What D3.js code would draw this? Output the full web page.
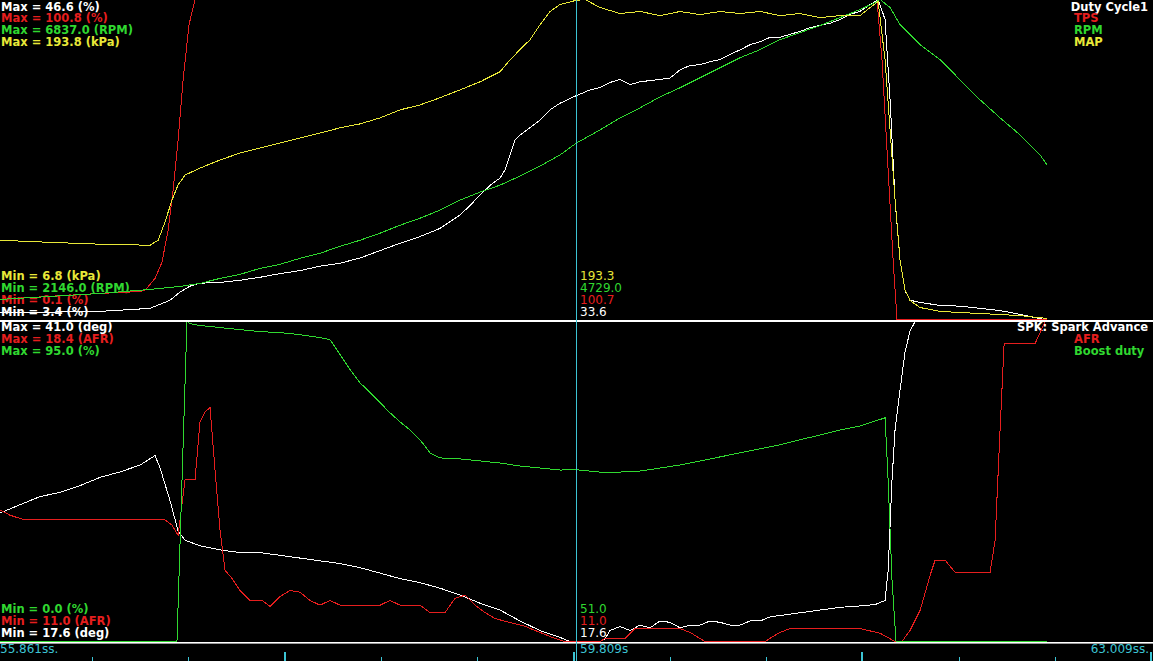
<!DOCTYPE html>
<html><head><meta charset="utf-8">
<script src="https://cdn.jsdelivr.net/npm/d3@7"></script>
<style>html,body{margin:0;padding:0;background:#000;overflow:hidden}</style>
</head><body><svg id="c" width="1153" height="661"></svg>
<script>
// ---------- DATA ----------
const timeRange = [55.861, 63.009];
const cursorTime = 59.432;
const timeLabels = ["55.861ss.", "59.809s", "63.009ss."];
const tickTimes = [56.431, 57.029, 57.626, 58.223, 58.820, 59.417, 60.014, 60.611, 61.208, 61.805, 62.402, 62.999];

const topNames = ["Duty Cycle1", "TPS", "RPM", "MAP"];
const topUnits = ["%", "%", "RPM", "kPa"];
const topMax = [46.6, 100.8, 6837.0, 193.8];
const topMin = [3.4, 0.1, 2146.0, 6.8];
const topCursor = [33.6, 100.7, 4729.0, 193.3];

const botNames = ["SPK: Spark Advance", "AFR", "Boost duty"];
const botUnits = ["deg", "AFR", "%"];
const botMax = [41.0, 18.4, 95.0];
const botMin = [17.6, 11.0, 0.0];
const botCursor = [17.6, 11.0, 51.0];

const duty = [[55.861,4.3],[56.481,4.5],[56.791,4.9],[56.915,6.0],[56.977,7.1],[57.039,7.9],[57.101,8.3],[57.225,8.4],[57.349,8.7],[57.473,9.1],[57.597,9.6],[57.721,10.0],[57.845,10.6],[57.969,11.0],[58.093,11.7],[58.217,12.7],[58.341,13.7],[58.465,14.6],[58.589,15.7],[58.713,17.5],[58.775,18.8],[58.837,20.2],[58.899,21.5],[58.961,22.5],[58.992,23.6],[59.023,25.6],[59.054,27.6],[59.085,28.3],[59.147,29.3],[59.209,30.3],[59.271,31.7],[59.333,32.6],[59.432,33.6],[59.519,34.4],[59.581,34.7],[59.643,35.4],[59.705,35.8],[59.767,35.1],[59.829,35.5],[59.953,35.8],[60.015,36.0],[60.077,37.1],[60.139,37.7],[60.201,37.8],[60.263,38.2],[60.325,38.5],[60.387,39.2],[60.449,39.8],[60.511,40.5],[60.573,40.9],[60.635,41.5],[60.697,41.5],[60.759,41.9],[60.821,42.3],[60.883,42.8],[60.945,43.1],[61.007,43.4],[61.069,43.9],[61.131,44.6],[61.193,45.0],[61.255,45.9],[61.305,46.6],[61.348,43.9],[61.379,33.1],[61.410,19.5],[61.441,11.4],[61.472,7.3],[61.503,6.0],[61.565,5.7],[61.689,5.3],[61.813,5.2],[61.937,4.9],[62.061,4.6],[62.185,4.1],[62.309,3.5],[62.352,3.4]];

const tps = [[55.861,6.4],[56.171,7.4],[56.481,8.3],[56.729,8.9],[56.760,9.3],[56.822,13.0],[56.865,18.1],[56.903,28.2],[56.934,40.8],[56.965,56.6],[56.996,75.5],[57.033,92.9],[57.070,100.8],[59.432,100.7],[61.298,100.8],[61.329,81.9],[61.367,47.1],[61.398,18.7],[61.422,0.1],[62.352,0.1]];

const rpm = [[55.861,2440],[56.171,2484],[56.481,2528],[56.791,2587],[56.977,2631],[57.101,2675],[57.225,2749],[57.349,2808],[57.473,2896],[57.597,2955],[57.721,3043],[57.845,3117],[57.969,3219],[58.093,3308],[58.217,3411],[58.341,3528],[58.465,3631],[58.589,3749],[58.713,3896],[58.837,4014],[58.961,4116],[59.085,4249],[59.209,4396],[59.333,4558],[59.432,4729],[59.581,4925],[59.705,5102],[59.829,5249],[59.953,5410],[60.077,5543],[60.201,5690],[60.325,5837],[60.449,5984],[60.573,6102],[60.697,6249],[60.821,6352],[60.945,6455],[61.069,6572],[61.193,6690],[61.286,6793],[61.317,6837],[61.379,6719],[61.441,6469],[61.565,6175],[61.689,5955],[61.813,5660],[61.937,5366],[62.061,5102],[62.185,4852],[62.309,4558],[62.352,4411]];

const map = [[55.861,53.1],[56.171,51.9],[56.481,50.8],[56.791,50.2],[56.841,53.1],[56.884,63.7],[56.927,76.6],[56.965,85.4],[57.008,91.2],[57.101,95.3],[57.225,100.0],[57.349,104.1],[57.473,107.0],[57.597,110.0],[57.721,112.9],[57.845,115.8],[57.969,118.8],[58.093,121.1],[58.217,124.6],[58.341,129.3],[58.465,132.2],[58.589,136.4],[58.713,141.0],[58.837,145.7],[58.961,151.6],[59.023,158.6],[59.085,164.5],[59.147,170.3],[59.209,179.1],[59.271,186.8],[59.333,190.9],[59.432,193.3],[59.488,193.8],[59.581,189.1],[59.705,185.6],[59.829,186.8],[59.953,184.4],[60.077,186.8],[60.201,185.0],[60.325,186.8],[60.449,185.6],[60.573,186.8],[60.697,184.4],[60.821,185.6],[60.945,183.2],[61.069,184.4],[61.193,184.4],[61.255,189.1],[61.305,192.6],[61.348,158.6],[61.379,117.6],[61.410,76.6],[61.441,41.4],[61.472,23.8],[61.503,17.9],[61.565,13.8],[61.689,11.5],[61.937,10.3],[62.185,9.1],[62.352,7.4]];

const spk = [[55.861,27.0],[55.985,27.6],[56.109,28.2],[56.233,28.5],[56.357,29.0],[56.481,29.6],[56.605,30.0],[56.729,30.5],[56.822,31.2],[56.853,30.3],[56.915,27.9],[56.965,25.7],[57.008,25.0],[57.101,24.6],[57.225,24.3],[57.349,24.1],[57.473,24.1],[57.597,23.9],[57.721,23.7],[57.845,23.5],[57.969,23.3],[58.093,23.0],[58.217,22.6],[58.341,22.2],[58.465,21.9],[58.589,21.5],[58.713,21.0],[58.837,20.4],[58.961,19.9],[59.085,19.1],[59.209,18.4],[59.333,17.9],[59.395,17.6],[59.581,17.6],[59.612,17.8],[59.643,18.4],[59.705,18.7],[59.767,18.4],[59.829,18.8],[59.891,18.6],[59.953,19.1],[60.015,19.0],[60.077,18.6],[60.139,18.8],[60.201,18.8],[60.263,19.1],[60.325,19.0],[60.387,18.8],[60.449,18.8],[60.511,19.1],[60.573,19.1],[60.635,19.4],[60.697,19.5],[60.821,19.7],[60.945,19.9],[61.069,20.1],[61.193,20.2],[61.286,20.3],[61.348,20.6],[61.367,22.8],[61.391,29.4],[61.410,33.1],[61.441,36.0],[61.472,38.8],[61.503,40.3],[61.534,41.0],[62.352,41.0]];

const afr = [[55.861,14.04],[55.923,13.92],[56.016,13.81],[56.884,13.81],[56.927,13.69],[56.965,13.46],[57.008,14.74],[57.070,14.74],[57.101,16.08],[57.132,16.31],[57.163,16.41],[57.194,14.97],[57.225,13.58],[57.256,12.65],[57.299,12.46],[57.349,12.18],[57.411,11.95],[57.485,11.95],[57.535,11.81],[57.597,12.04],[57.659,12.18],[57.721,12.14],[57.783,11.95],[57.845,11.84],[57.907,11.95],[57.969,11.84],[58.217,11.84],[58.279,11.95],[58.341,11.84],[58.465,11.84],[58.527,11.67],[58.620,11.67],[58.682,12.00],[58.744,12.07],[58.806,11.84],[58.868,11.67],[58.930,11.53],[59.023,11.44],[59.116,11.35],[59.209,11.21],[59.302,11.07],[59.364,11.00],[59.581,11.00],[59.612,11.07],[59.736,11.07],[59.798,11.30],[60.077,11.30],[60.139,11.21],[60.232,11.00],[60.604,11.00],[60.685,11.19],[60.759,11.30],[61.193,11.30],[61.317,11.19],[61.410,11.00],[61.453,11.00],[61.503,11.26],[61.565,11.72],[61.627,12.53],[61.658,12.88],[61.720,12.88],[61.782,12.60],[61.999,12.60],[62.030,13.34],[62.061,15.90],[62.086,17.89],[62.278,17.89],[62.340,18.40],[62.352,18.40]];

const boost = [[55.861,0],[56.958,0],[57.020,95.0],[57.039,94.4],[57.101,93.8],[57.225,93.2],[57.349,92.6],[57.473,92.0],[57.597,91.7],[57.721,91.1],[57.845,90.2],[57.907,89.6],[57.969,85.2],[58.031,80.7],[58.093,76.8],[58.155,73.9],[58.217,70.9],[58.279,67.9],[58.341,65.2],[58.403,62.8],[58.465,59.9],[58.527,56.0],[58.589,54.5],[58.713,54.2],[58.837,53.6],[58.961,53.0],[59.085,52.1],[59.209,51.5],[59.333,50.9],[59.432,51.0],[59.581,50.3],[59.705,50.3],[59.829,50.6],[59.953,51.5],[60.077,52.4],[60.201,53.6],[60.325,54.8],[60.449,56.0],[60.573,57.2],[60.697,58.4],[60.821,59.9],[60.945,61.3],[61.069,62.8],[61.193,64.0],[61.348,66.4],[61.367,47.9],[61.391,18.2],[61.416,0],[62.352,0]];

// ---------- STYLE ----------
const W = 1153, H = 661;
const C = {white:"#ffffff", red:"#e61e1e", green:"#30d830", yellow:"#e8e838", cyan:"#3cc4d4"};
const topColors = [C.white, C.red, C.green, C.yellow];
const botColors = [C.white, C.red, C.green];
const topData = [duty, tps, rpm, map];
const botData = [spk, afr, boost];
const LBL = "'DejaVu Sans', Verdana, sans-serif";

const svg = d3.select("#c");
svg.append("rect").attr("width", W).attr("height", H).attr("fill", "#000");

const x = d3.scaleLinear().domain(timeRange).range([0, W]);

function panel(cfg) {
  const g = svg.append("g");
  const n = cfg.names.length;
  const lh = 11.8;
  cfg.names.forEach((nm, i) => {
    g.append("text").attr("x", 1).attr("y", cfg.maxBase + i * cfg.maxStep)
      .attr("fill", cfg.colors[i]).attr("font-family", LBL).attr("font-weight", "bold")
      .attr("font-size", "11.5px")
      .text(`Max = ${cfg.max[i].toFixed(1)} (${cfg.units[i]})`);
    const t = g.append("text").attr("y", cfg.maxBase + i * cfg.maxStep)
      .attr("fill", cfg.colors[i]).attr("font-family", LBL).attr("font-weight", "bold")
      .attr("font-size", "11.5px").text(nm);
    if (i === 0) t.attr("x", W - 5).attr("text-anchor", "end");
    else t.attr("x", 1074);
  });
  for (let k = 0; k < n; k++) {
    const i = n - 1 - k;
    const yy = cfg.minBase + k * lh;
    g.append("text").attr("x", 1).attr("y", yy)
      .attr("fill", cfg.colors[i]).attr("font-family", LBL).attr("font-weight", "bold")
      .attr("font-size", "11.5px")
      .text(`Min = ${cfg.min[i].toFixed(1)} (${cfg.units[i]})`);
    g.append("text").attr("x", x(cursorTime) + 4).attr("y", yy)
      .attr("fill", cfg.colors[i]).attr("font-family", LBL)
      .attr("font-size", "12px")
      .text(cfg.cursor[i].toFixed(1));
  }
  cfg.data.forEach((d, i) => {
    const y = d3.scaleLinear().domain([cfg.min[i], cfg.max[i]]).range([cfg.bottom, cfg.top]);
    const line = d3.line().x(p => x(p[0])).y(p => y(p[1]));
    g.append("path").datum(d).attr("d", line)
      .attr("fill", "none").attr("stroke", cfg.colors[i]).attr("stroke-width", 1)
      .attr("shape-rendering", "crispEdges");
  });
}

panel({names: topNames, units: topUnits, max: topMax, min: topMin, cursor: topCursor,
       colors: topColors, data: topData, top: -0.5, bottom: 319.5,
       maxBase: 10.5, maxStep: 11.9, minBase: 280.2});
panel({names: botNames, units: botUnits, max: botMax, min: botMin, cursor: botCursor,
       colors: botColors, data: botData, top: 321.5, bottom: 641.5,
       maxBase: 330.7, maxStep: 12.1, minBase: 613.3});

// separators
svg.append("rect").attr("x", 0).attr("y", 320).attr("width", W).attr("height", 2).attr("fill", C.white);
svg.append("rect").attr("x", 0).attr("y", 642).attr("width", W).attr("height", 1.6).attr("fill", C.white);

// cursor line
svg.append("line").attr("x1", Math.round(x(cursorTime)) + 0.5).attr("x2", Math.round(x(cursorTime)) + 0.5)
  .attr("y1", 0).attr("y2", H).attr("stroke", C.cyan).attr("stroke-width", 1);

// time ticks
tickTimes.forEach((t, i) => {
  const tall = i % 3 === 2;
  const px = Math.round(x(t));
  svg.append("rect").attr("x", tall ? px - 1 : px).attr("y", tall ? 652 : 657)
    .attr("width", tall ? 2 : 1).attr("height", tall ? 9 : 4).attr("fill", C.cyan);
});

// time labels
function tl(txt, xx, anchor) {
  svg.append("text").attr("x", xx).attr("y", 653).attr("text-anchor", anchor)
    .attr("font-family", LBL).attr("font-size", "12px").attr("fill", C.cyan).text(txt);
}
tl(timeLabels[0], x(timeRange[0]), "start");
tl(timeLabels[1], x(cursorTime) + 4, "start");
tl(timeLabels[2], x(timeRange[1]) - 4, "end");
</script></body></html>
